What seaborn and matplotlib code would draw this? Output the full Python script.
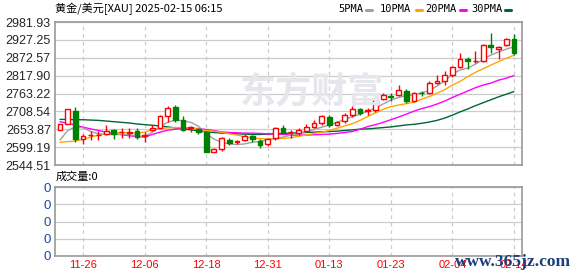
import numpy as np
import pandas as pd
import matplotlib
matplotlib.use("Agg")
import matplotlib.pyplot as plt
import seaborn as sns

# ---------------- data ----------------
opens = [2652.5, 2671.0, 2709.6, 2625.0, 2635.0, 2636.0, 2640.3, 2652.5, 2644.0, 2643.0,
         2648.0, 2632.0, 2651.5, 2658.6, 2695.3, 2722.8, 2682.1, 2656.7, 2654.6, 2646.4,
         2585.2, 2593.4, 2621.9, 2615.0, 2621.0, 2632.0, 2617.9, 2607.6, 2626.2, 2658.6,
         2644.0, 2641.3, 2649.5, 2661.7, 2671.9, 2690.3, 2667.8, 2680.0, 2696.4, 2716.8,
         2708.6, 2712.7, 2747.3, 2755.5, 2757.5, 2771.8, 2741.2, 2765.7, 2765.6, 2796.2,
         2802.4, 2818.7, 2845.3, 2867.7, 2861.6, 2861.6, 2912.6, 2900.4, 2910.6, 2931.0]
highs = [2670.0, 2717.0, 2722.9, 2638.0, 2648.6, 2648.0, 2666.8, 2654.0, 2656.6, 2656.6,
         2656.6, 2644.6, 2667.0, 2697.4, 2724.0, 2728.0, 2693.0, 2665.0, 2656.0, 2650.0,
         2597.0, 2630.0, 2628.0, 2621.0, 2638.0, 2636.0, 2624.0, 2628.0, 2661.0, 2668.0,
         2652.5, 2657.0, 2669.9, 2682.0, 2698.4, 2696.4, 2680.0, 2702.5, 2724.9, 2718.8,
         2718.8, 2747.4, 2763.6, 2763.6, 2790.1, 2775.8, 2767.7, 2771.8, 2800.3, 2820.7,
         2833.0, 2847.2, 2886.0, 2875.9, 2892.2, 2914.6, 2949.3, 2908.5, 2933.0, 2945.2]
lows = [2651.0, 2669.0, 2615.8, 2608.0, 2621.0, 2622.0, 2636.0, 2624.0, 2628.0, 2628.0,
        2624.0, 2613.8, 2650.0, 2655.0, 2677.0, 2677.0, 2647.0, 2646.0, 2640.0, 2583.0,
        2583.0, 2587.0, 2607.0, 2609.0, 2617.0, 2615.0, 2598.0, 2604.0, 2622.0, 2638.0,
        2628.0, 2636.0, 2647.4, 2657.6, 2667.8, 2659.7, 2663.7, 2671.9, 2692.3, 2698.4,
        2696.4, 2706.6, 2743.2, 2739.1, 2755.4, 2733.0, 2737.1, 2755.5, 2761.6, 2792.2,
        2790.1, 2812.6, 2841.2, 2837.1, 2857.5, 2859.6, 2886.1, 2869.8, 2908.5, 2882.0]
closes = [2668.8, 2716.0, 2624.0, 2632.0, 2637.0, 2637.5, 2648.6, 2640.0, 2645.5, 2644.5,
          2630.0, 2636.0, 2658.6, 2694.4, 2719.8, 2682.1, 2651.5, 2660.7, 2646.4, 2585.2,
          2593.4, 2626.2, 2611.8, 2617.0, 2633.2, 2624.0, 2605.6, 2624.0, 2658.6, 2642.4,
          2646.0, 2651.0, 2659.7, 2671.9, 2694.3, 2667.8, 2676.0, 2696.4, 2714.7, 2704.5,
          2712.7, 2745.3, 2757.5, 2753.4, 2773.8, 2741.2, 2763.6, 2763.6, 2796.2, 2800.3,
          2818.7, 2845.2, 2869.8, 2861.6, 2863.6, 2910.6, 2904.4, 2906.5, 2931.0, 2888.1]

ma5 = [2621, 2650, 2661, 2658, 2647, 2640, 2638, 2638, 2638, 2637,
       2634, 2631, 2645, 2663, 2675, 2682, 2680, 2675, 2663, 2640,
       2624, 2614, 2609, 2607, 2609, 2614, 2617, 2621, 2625, 2630,
       2636, 2641, 2647, 2653, 2660, 2667, 2675, 2684, 2692, 2700,
       2709, 2719, 2731, 2743, 2751, 2757, 2760, 2765, 2772, 2786,
       2802, 2823, 2835, 2841, 2853, 2867, 2881, 2890, 2899, 2906]
ma10 = [2614, 2616, 2618, 2623, 2630, 2636, 2640, 2643, 2644, 2643,
        2642, 2645, 2652, 2656, 2658, 2659, 2659, 2658, 2654, 2650,
        2648, 2645, 2640, 2636, 2631, 2627, 2625, 2624, 2625, 2626,
        2628, 2632, 2636, 2641, 2645, 2650, 2657, 2664, 2671, 2681,
        2693, 2704, 2715, 2723, 2728, 2732, 2737, 2746, 2754, 2764,
        2775, 2789, 2800, 2815, 2828, 2839, 2850, 2861, 2871, 2880]
ma20 = [2677, 2672, 2667, 2660, 2655, 2650, 2645, 2641, 2637, 2634,
        2632, 2630, 2638, 2645, 2651, 2654, 2656, 2657, 2656, 2653,
        2650, 2646, 2644, 2643, 2642, 2642, 2641, 2640, 2639, 2638,
        2636, 2636, 2636, 2637, 2638, 2639, 2641, 2644, 2647, 2654,
        2662, 2668, 2675, 2683, 2691, 2700, 2709, 2717, 2723, 2731,
        2740, 2751, 2761, 2771, 2781, 2789, 2795, 2804, 2810, 2818]
ma30 = [2684, 2684, 2683, 2683, 2682, 2681, 2679, 2677, 2675, 2673,
        2670, 2668, 2666, 2664, 2661, 2658, 2655, 2652, 2649, 2646,
        2644, 2642, 2641, 2640, 2639, 2638, 2638, 2639, 2640, 2641,
        2642, 2643, 2644, 2645, 2646, 2647, 2648, 2650, 2652, 2654,
        2655, 2657, 2659, 2661, 2664, 2667, 2669, 2672, 2676, 2681,
        2688, 2697, 2707, 2716, 2726, 2735, 2744, 2753, 2761, 2769]

volume = [0] * 60
y_ticks = [2544.51, 2599.19, 2653.87, 2708.54, 2763.22, 2817.90, 2872.57, 2927.25, 2981.93]
y_tick_labels = ["2544.51", "2599.19", "2653.87", "2708.54", "2763.22",
                 "2817.90", "2872.57", "2927.25", "2981.93"]
x_tick_labels = ["11-26", "12-06", "12-18", "12-31", "01-13", "01-23", "02-04", "02-14"]
x_tick_index = [3, 11, 19, 27, 35, 43, 51, 59]
title_text = "黄金/美元[XAU] 2025-02-15 06:15"
legend_names = ["5PMA", "10PMA", "20PMA", "30PMA"]

# ---------------- styling ----------------
sns.set_style("white")
plt.rcParams["font.family"] = ["DejaVu Sans", "Noto Sans CJK SC"]

RED = "#ff0000"
GREEN = "#008000"
MA_COLORS = ["#a0a0a0", "#ffa500", "#ff00ff", "#006633"]
GRID = "#cccccc"
FRAME = "#999999"

W, H = 578, 276
fig = plt.figure(figsize=(W / 100, H / 100), dpi=100)

def axes_rect(x0, y0, x1, y1):
    return [x0 / W, 1 - y1 / H, (x1 - x0) / W, (y1 - y0) / H]

ax = fig.add_axes(axes_rect(55, 22, 522, 165))
axv = fig.add_axes(axes_rect(55, 187, 522, 256))

n = len(closes)
idx = np.arange(n)
df = pd.DataFrame({"i": idx, "open": opens, "high": highs, "low": lows, "close": closes,
                   "ma5": ma5, "ma10": ma10, "ma20": ma20, "ma30": ma30, "vol": volume})

xlim = (-0.65, 60.05)

# watermark
fig.text(312 / W, 1 - 92 / H, "东方财富", fontsize=26, fontweight="bold", color="#e6e6ec",
         family=["Noto Sans CJK SC"], ha="center", va="center", zorder=0)

# grid
for yv in y_ticks:
    ax.axhline(yv, color=GRID, lw=0.9, zorder=1)
for xi in x_tick_index:
    ax.axvline(xi, color=GRID, lw=0.9, ls=(0, (3, 3)), zorder=1)

# moving averages
for col, c in zip(["ma30", "ma20", "ma10", "ma5"], MA_COLORS[::-1]):
    sns.lineplot(data=df, x="i", y=col, ax=ax, color=c, lw=1.0, zorder=3)

# candles
up = df["close"] >= df["open"]
colors = np.where(up, RED, GREEN)
ax.vlines(df["i"], df["low"], df["high"], colors=colors, lw=1.0, zorder=4)
body_bottom = np.minimum(df["open"], df["close"])
body_h = np.maximum(np.abs(df["close"] - df["open"]), 0.6)
ax.bar(df["i"][up], body_h[up], bottom=body_bottom[up], width=0.62,
       facecolor="white", edgecolor=RED, lw=1.0, zorder=5)
ax.bar(df["i"][~up], body_h[~up], bottom=body_bottom[~up], width=0.62,
       facecolor=GREEN, edgecolor=GREEN, lw=1.0, zorder=5)

ax.set_xlim(*xlim)
ax.set_ylim(y_ticks[0], y_ticks[-1])
ax.set_yticks(y_ticks)
ax.set_yticklabels(y_tick_labels, fontsize=9, family=["Liberation Sans"])
ax.set_xticks([])
ax.set_xlabel("")
ax.set_ylabel("")
ax.tick_params(axis="y", length=0, pad=3)
for s in ax.spines.values():
    s.set_color(FRAME)
    s.set_linewidth(1.2)

# volume panel
vol_ticks = [0, 1, 2, 3, 4]
for yv in vol_ticks:
    axv.axhline(yv, color=GRID, lw=0.9, zorder=1)
for xi in x_tick_index:
    axv.axvline(xi, color=GRID, lw=0.9, ls=(0, (3, 3)), zorder=1)
sns.barplot(x=idx, y=volume, ax=axv, native_scale=True, color=GREEN)
axv.set_xlim(*xlim)
axv.set_ylim(0, 4)
axv.set_yticks(vol_ticks)
axv.set_yticklabels(["0"] * 5, fontsize=9.5, color="#1f4aa0", family=["Liberation Sans"])
axv.set_xticks(x_tick_index)
axv.set_xticklabels(x_tick_labels, fontsize=8, color=RED, family=["Liberation Sans"])
axv.tick_params(axis="y", length=0, pad=3)
axv.tick_params(axis="x", length=0, pad=3)
axv.set_xlabel("")
axv.set_ylabel("")
for s in axv.spines.values():
    s.set_color(FRAME)
    s.set_linewidth(1.2)

# texts
fig.text(55 / W, 1 - 9 / H, title_text, fontsize=8, ha="left", va="center",
         family=["Noto Sans CJK SC"], color="black")
fig.text(56 / W, 1 - 177 / H, "成交量:0", fontsize=8, ha="left", va="center",
         family=["Noto Sans CJK SC"], color="black")

leg_x = [338, 380, 425, 471]
dash_x = [366, 416, 460, 505]
for name, lx, dx, c in zip(legend_names, leg_x, dash_x, MA_COLORS):
    fig.text(lx / W, 1 - 9 / H, name, fontsize=7.5, ha="left", va="center",
             family=["DejaVu Sans Mono"], color="black")
    fig.lines.append(plt.Line2D([dx / W, (dx + 6) / W], [1 - 9.5 / H, 1 - 9.5 / H],
                                transform=fig.transFigure, color=c, lw=2.2))

fig.text(513 / W, 1 - 262 / H, "www.365jz.com", fontsize=12.5, ha="center", va="center",
         family=["Liberation Serif"], color="#1b3f7a", fontweight="bold", zorder=10)

fig.savefig("out.png", dpi=100)
